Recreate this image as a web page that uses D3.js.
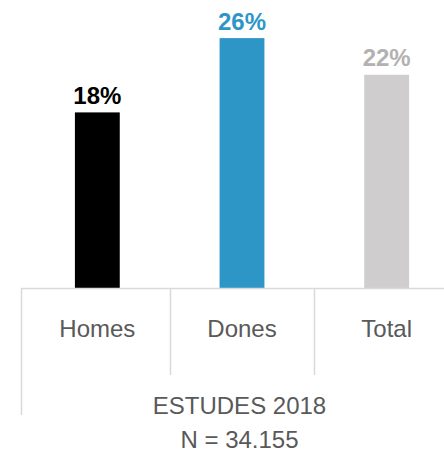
<!DOCTYPE html>
<html><head><meta charset="utf-8">
<script src="https://cdn.jsdelivr.net/npm/d3@7"></script>
<style>html,body{margin:0;padding:0;background:#fff;}svg{display:block;}</style>
</head><body>
<svg id="chart" width="444" height="453"></svg>
<script>
const categories = ["Homes", "Dones", "Total"];
const values = [18.2, 25.9, 22.1];
const barColors = ["#000000", "#2e96c7", "#cfcdce"];
const labelColors = ["#000000", "#2e96c7", "#b3b1b2"];
const groupLabel = "ESTUDES 2018";
const sampleLabel = "N = 34.155";

const svg = d3.select("#chart");
const font = "Arial, 'Liberation Sans', sans-serif";
const baseY = 288;

const x = d3.scaleBand().domain(categories).range([25, 459]).paddingInner(0.69).paddingOuter(0.345);
const y = d3.scaleLinear().domain([0, 29.85]).range([baseY, 0]);

// bars
svg.selectAll("rect.bar").data(categories).join("rect")
  .attr("class", "bar")
  .attr("x", d => x(d))
  .attr("width", x.bandwidth())
  .attr("y", (d, i) => y(values[i]))
  .attr("height", (d, i) => baseY - y(values[i]))
  .attr("fill", (d, i) => barColors[i]);

// value labels
svg.selectAll("text.val").data(categories).join("text")
  .attr("class", "val")
  .attr("x", d => x(d) + x.bandwidth() / 2)
  .attr("y", (d, i) => y(values[i]) - 8.5)
  .attr("text-anchor", "middle")
  .attr("font-family", font)
  .attr("font-weight", "bold")
  .attr("font-size", 24)
  .attr("fill", (d, i) => labelColors[i])
  .text((d, i) => d3.format(".0f")(values[i]) + "%");

// axis lines
const lineColor = "#d9d9d9";
const step = x.step();
const start = x.range()[0];
svg.append("line").attr("x1", 21.5).attr("x2", 444).attr("y1", baseY + 0.5).attr("y2", baseY + 0.5)
  .attr("stroke", lineColor).attr("stroke-width", 1.5);
svg.append("line").attr("x1", 21.5).attr("x2", 21.5).attr("y1", baseY).attr("y2", 415)
  .attr("stroke", lineColor).attr("stroke-width", 1.5);
[1, 2].forEach(i => {
  const xx = Math.round(start + i * step) + 0.5;
  svg.append("line").attr("x1", xx).attr("x2", xx).attr("y1", baseY).attr("y2", 375)
    .attr("stroke", lineColor).attr("stroke-width", 1.5);
});

// category labels
svg.selectAll("text.cat").data(categories).join("text")
  .attr("class", "cat")
  .attr("x", d => x(d) + x.bandwidth() / 2)
  .attr("y", 337)
  .attr("text-anchor", "middle")
  .attr("font-family", font)
  .attr("font-size", 24)
  .attr("fill", "#595959")
  .text(d => d);

svg.append("text").attr("x", 239.5).attr("y", 414)
  .attr("text-anchor", "middle").attr("font-family", font).attr("font-size", 24)
  .attr("fill", "#595959").text(groupLabel);
svg.append("text").attr("x", 239.5).attr("y", 448)
  .attr("text-anchor", "middle").attr("font-family", font).attr("font-size", 24)
  .attr("fill", "#595959").text(sampleLabel);
</script>
</body></html>
